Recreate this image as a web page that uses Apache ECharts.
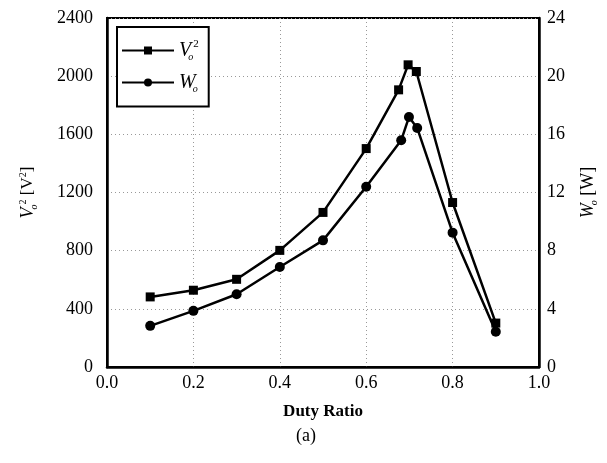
<!DOCTYPE html>
<html><head><meta charset="utf-8">
<script src="https://cdn.jsdelivr.net/npm/echarts@6/dist/echarts.min.js"></script>
<style>html,body{margin:0;padding:0;background:#fff}#c{width:607px;height:463px}</style>
</head><body><div id="c"></div>
<script>
var dutyV = [0.1, 0.2, 0.3, 0.4, 0.5, 0.6, 0.675, 0.697, 0.716, 0.8, 0.9];
var vo2 = [482, 528, 603, 802, 1063, 1502, 1906, 2078, 2032, 1131, 302];
var dutyW = [0.1, 0.2, 0.3, 0.4, 0.5, 0.6, 0.681, 0.699, 0.718, 0.8, 0.9];
var wo = [2.83, 3.86, 5.0, 6.88, 8.71, 12.39, 15.59, 17.19, 16.44, 9.24, 2.42];
var xTicks = [0.0, 0.2, 0.4, 0.6, 0.8, 1.0];
var leftTicks = [0, 400, 800, 1200, 1600, 2000, 2400];
var rightTicks = [0, 4, 8, 12, 16, 20, 24];

var F = 'Liberation Serif';
var chart = echarts.init(document.getElementById('c'));
function pairs(xs, ys){ return xs.map(function(x,i){return [x, ys[i]];}); }
var split = {show:true, lineStyle:{color:'#999', type:[1,3], width:1}};
chart.setOption({
  animation:false,
  backgroundColor:'#fff',
  grid:{left:107, right:68, top:18, bottom:96, show:true, borderColor:'#000', borderWidth:2},
  legend:{
    left:117, top:27, orient:'vertical', itemGap:10, itemWidth:52, itemHeight:10,
    padding:[12,10,12,4], borderColor:'#000', borderWidth:2, backgroundColor:'#fff',
    data:['V','W'],
    formatter:function(n){ return n==='V' ? '{i|V}{s|o}{p|2}' : '{i|W}{s|o}'; },
    textStyle:{fontFamily:F, color:'#000', rich:{
      i:{fontFamily:F, fontStyle:'italic', fontSize:20, color:'#000'},
      s:{fontFamily:F, fontStyle:'italic', fontSize:10, color:'#000', padding:[14,0,0,-3]},
      p:{fontFamily:F, fontSize:11, color:'#000', padding:[0,0,12,0]}
    }}
  },
  xAxis:{type:'value', min:xTicks[0], max:xTicks[xTicks.length-1], interval:0.2,
    axisLine:{lineStyle:{color:'#000', width:2.5}}, axisTick:{show:false},
    axisLabel:{margin:7, fontFamily:F, fontSize:18, color:'#000', formatter:function(v){return v.toFixed(1);}},
    splitLine:split,
    name:'Duty Ratio', nameLocation:'middle', nameGap:36,
    nameTextStyle:{fontFamily:F, fontSize:17, fontWeight:'bold', color:'#000'}
  },
  yAxis:[
    {type:'value', min:leftTicks[0], max:leftTicks[leftTicks.length-1], interval:400,
     axisLine:{show:true, lineStyle:{color:'#000', width:2.5}}, axisTick:{show:false},
     axisLabel:{margin:14, fontFamily:F, fontSize:18, color:'#000', formatter:function(v){return String(v);}},
     splitLine:split,
     name:'{i|V}{s|o}{p|2} [V{q|2}]', nameLocation:'middle', nameGap:68, nameRotate:90,
     nameTextStyle:{fontFamily:F, fontSize:17, color:'#000', rich:{
       i:{fontFamily:F, fontStyle:'italic', fontSize:18, color:'#000'},
       s:{fontFamily:F, fontStyle:'italic', fontSize:10, color:'#000', padding:[12,0,0,-2]},
       p:{fontFamily:F, fontSize:10, color:'#000', padding:[0,0,10,0]},
       q:{fontFamily:F, fontSize:10, color:'#000', padding:[0,0,10,0]}
     }}
    },
    {type:'value', min:rightTicks[0], max:rightTicks[rightTicks.length-1], interval:4, position:'right',
     axisLine:{show:true, lineStyle:{color:'#000', width:2.5}}, axisTick:{show:false},
     axisLabel:{margin:8, fontFamily:F, fontSize:18, color:'#000'},
     splitLine:{show:false},
     name:'{i|W}{s|o} [W]', nameLocation:'middle', nameGap:38, nameRotate:90,
     nameTextStyle:{fontFamily:F, fontSize:18, color:'#000', rich:{
       i:{fontFamily:F, fontStyle:'italic', fontSize:18, color:'#000'},
       s:{fontFamily:F, fontStyle:'italic', fontSize:10, color:'#000', padding:[12,0,0,-2]}
     }}
    }
  ],
  graphic:[{type:'text', left:296, top:427, style:{text:'(a)', font:'18px "Liberation Serif"', fill:'#000'}}],
  series:[
    {name:'V', type:'line', yAxisIndex:0, data:pairs(dutyV, vo2), symbol:'rect', symbolSize:9,
     lineStyle:{color:'#000', width:2.5}, itemStyle:{color:'#000'}},
    {name:'W', type:'line', yAxisIndex:1, data:pairs(dutyW, wo), symbol:'circle', symbolSize:10,
     lineStyle:{color:'#000', width:2.5}, itemStyle:{color:'#000'}}
  ]
});
</script></body></html>
